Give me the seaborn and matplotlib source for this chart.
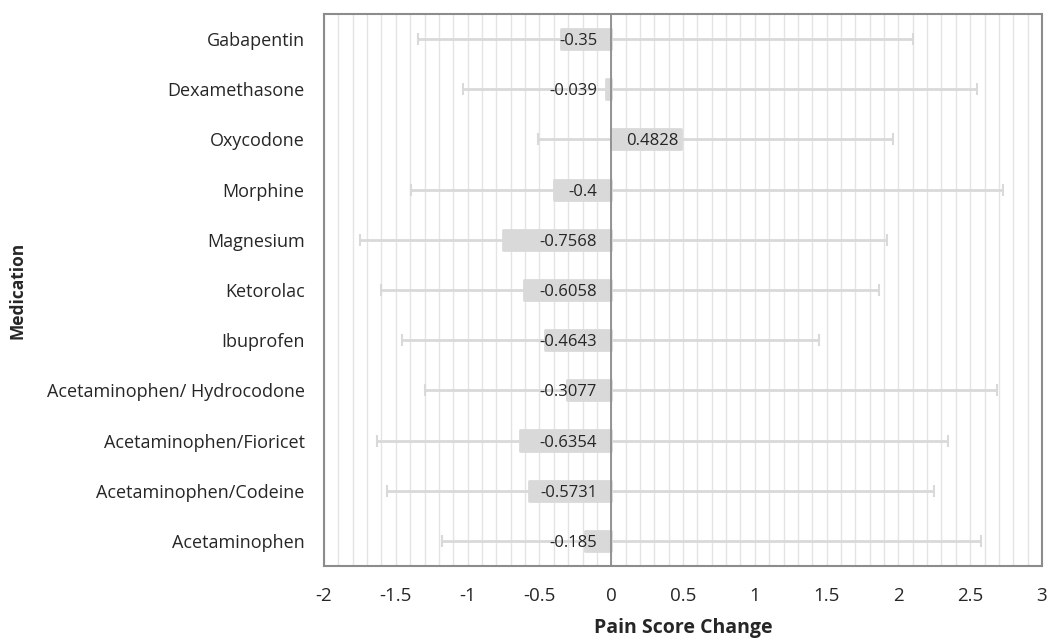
import matplotlib
matplotlib.use("Agg")
import matplotlib.pyplot as plt
import seaborn as sns
import pandas as pd
import numpy as np

# data
medications = ["Gabapentin", "Dexamethasone", "Oxycodone", "Morphine", "Magnesium",
               "Ketorolac", "Ibuprofen", "Acetaminophen/ Hydrocodone",
               "Acetaminophen/Fioricet", "Acetaminophen/Codeine", "Acetaminophen"]
change = [-0.35, -0.039, 0.4828, -0.4, -0.7568, -0.6058, -0.4643, -0.3077, -0.6354, -0.5731, -0.185]
ci_low = [-1.344, -1.033, -0.513, -1.395, -1.753, -1.602, -1.458, -1.300, -1.632, -1.565, -1.180]
ci_high = [2.105, 2.549, 1.964, 2.732, 1.924, 1.864, 1.446, 2.690, 2.345, 2.247, 2.577]
label_text = ["-0.35", "-0.039", "0.4828", "-0.4", "-0.7568", "-0.6058", "-0.4643",
              "-0.3077", "-0.6354", "-0.5731", "-0.185"]

df = pd.DataFrame({"Medication": medications, "Change": change})

sns.set_theme(style="white")
plt.rcParams["font.family"] = ["Open Sans", "DejaVu Sans"]

fig = plt.figure(figsize=(10.47, 6.38), dpi=100)
ax = fig.add_axes([0.3095, 0.1129, 0.6857, 0.8652])

# error bars first so the bars sit on top
ypos = np.arange(len(medications))
lo = np.array(change) - np.array(ci_low)
hi = np.array(ci_high) - np.array(change)
ax.errorbar(change, ypos, xerr=[lo, hi], fmt="none", ecolor="#d9d9d9",
            elinewidth=2, capsize=4, capthick=1.5, zorder=2)

sns.barplot(data=df, y="Medication", x="Change", order=medications, orient="h",
            color="#d9d9d9", saturation=1, width=0.4, ax=ax, zorder=3)
for p in ax.patches:
    p.set_edgecolor("#d9d9d9")
    p.set_linewidth(2)
    p.set_joinstyle("round")

# value labels
for i, (v, t) in enumerate(zip(change, label_text)):
    if v < 0:
        ax.annotate(t, (0, i), xytext=(-14, -2), textcoords="offset pixels",
                    ha="right", va="center", fontsize=12, color="#262626", zorder=5)
    else:
        ax.annotate(t, (0, i), xytext=(15, -2), textcoords="offset pixels",
                    ha="left", va="center", fontsize=12, color="#262626", zorder=5)

ax.set_xlim(-2, 3)
ax.set_ylim(len(medications) - 0.5, -0.5)
ax.set_xticks(np.arange(-2, 3.01, 0.5))
ax.set_xticklabels(["-2", "-1.5", "-1", "-0.5", "0", "0.5", "1", "1.5", "2", "2.5", "3"])
ax.set_xticks(np.arange(-2, 3.001, 0.1), minor=True)
ax.grid(True, axis="x", which="both", color="#e4e4e4", linewidth=1, zorder=0)
ax.set_axisbelow(True)
ax.axvline(0, color="#8c8c8c", linewidth=1.3, zorder=4)

for s in ax.spines.values():
    s.set_color("#8c8c8c")
    s.set_linewidth(1.5)

ax.tick_params(axis="both", which="both", length=0, colors="#262626")
ax.tick_params(axis="x", labelsize=13.5, pad=15)
ax.tick_params(axis="y", labelsize=13, pad=14)
ax.set_xlabel("Pain Score Change", fontsize=14, fontweight="bold", color="#262626")
ax.set_ylabel("Medication", fontsize=12.5, fontweight="bold", color="#262626")
ax.xaxis.set_label_coords(0.5, -0.095)
ax.yaxis.set_label_coords(-0.414, 0.5)

fig.savefig("out.png", dpi=100)
